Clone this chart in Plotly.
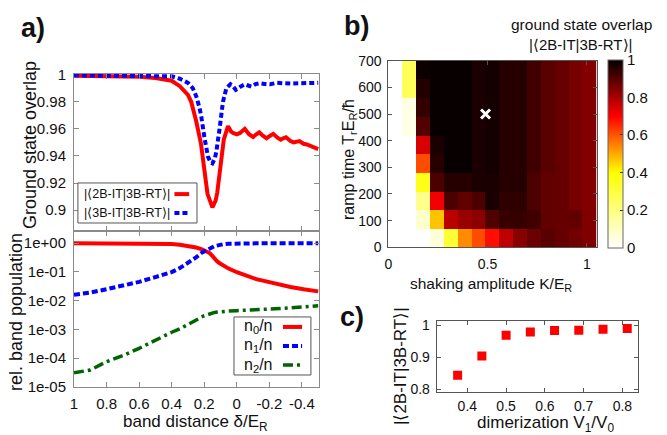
import plotly.graph_objects as go

# ---------------- data ----------------
# panel a (top): ground state overlaps vs band distance
delta_2b = [1.0, 0.8, 0.6, 0.5, 0.4, 0.35, 0.3, 0.28, 0.25, 0.22, 0.2, 0.18, 0.15, 0.13, 0.12, 0.1,
            0.08, 0.054, 0.035, 0.023, 0.0, -0.02, -0.049, -0.075, -0.1, -0.12, -0.138, -0.16,
            -0.183, -0.205, -0.224, -0.25, -0.27, -0.285, -0.302, -0.33, -0.35, -0.385, -0.41,
            -0.43, -0.46, -0.5]
overlap_2b = [0.9993, 0.999, 0.9985, 0.9975, 0.9955, 0.9915, 0.985, 0.980, 0.966, 0.949, 0.929,
              0.912, 0.902, 0.907, 0.913, 0.934, 0.952, 0.962, 0.958, 0.957, 0.956, 0.957, 0.960,
              0.956, 0.954, 0.956, 0.9575, 0.955, 0.953, 0.955, 0.9563, 0.9535, 0.952, 0.953,
              0.9538, 0.951, 0.950, 0.951, 0.949, 0.9485, 0.947, 0.945]
delta_3b = [1.0, 0.6, 0.4, 0.35, 0.3, 0.27, 0.249, 0.23, 0.218, 0.198, 0.177, 0.16, 0.15, 0.135,
            0.125, 0.105, 0.085, 0.064, 0.039, 0.02, 0.006, -0.02, -0.049, -0.07, -0.09, -0.115,
            -0.142, -0.17, -0.204, -0.245, -0.29, -0.33, -0.38, -0.43, -0.5]
overlap_3b = [0.9995, 0.9993, 0.9988, 0.997, 0.994, 0.990, 0.984, 0.976, 0.969, 0.953, 0.9395,
              0.935, 0.9345, 0.938, 0.9436, 0.9607, 0.980, 0.990, 0.9929, 0.991, 0.9888, 0.991,
              0.9929, 0.992, 0.9912, 0.993, 0.9937, 0.9932, 0.9929, 0.994, 0.9935, 0.9934,
              0.9937, 0.9937, 0.994]

# panel a (bottom): relative band populations
delta_pop = [1.0, 0.9, 0.8, 0.7, 0.6, 0.5, 0.44, 0.4, 0.35, 0.3, 0.27, 0.25, 0.218, 0.2, 0.177,
             0.167, 0.15, 0.136, 0.12, 0.105, 0.085, 0.05, 0.0, -0.05, -0.12, -0.2, -0.265,
             -0.33, -0.41, -0.5]
n0 = [0.98, 0.98, 0.978, 0.975, 0.97, 0.965, 0.955, 0.93, 0.88, 0.80, 0.76, 0.70, 0.62, 0.56,
      0.49, 0.45, 0.36, 0.28, 0.23, 0.20, 0.166, 0.13, 0.097, 0.077, 0.056, 0.044, 0.035,
      0.030, 0.025, 0.021]
n1 = [0.016, 0.019, 0.025, 0.033, 0.045, 0.066, 0.083, 0.098, 0.135, 0.2, 0.26, 0.32, 0.45,
      0.52, 0.6, 0.64, 0.72, 0.79, 0.84, 0.87, 0.91, 0.95, 0.975, 0.98, 0.98, 0.98, 0.98,
      0.98, 0.98, 0.98]
n2 = [3.1e-5, 3.9e-5, 7.6e-5, 1.23e-4, 2.2e-4, 4.3e-4, 6.3e-4, 8.0e-4, 1.05e-3, 1.5e-3, 1.85e-3,
      2.2e-3, 2.75e-3, 3.0e-3, 3.3e-3, 3.5e-3, 3.75e-3, 3.9e-3, 4.0e-3, 4.1e-3, 4.2e-3, 4.35e-3,
      4.5e-3, 4.6e-3, 4.8e-3, 5.0e-3, 5.3e-3, 5.6e-3, 6.0e-3, 6.6e-3]

# panel b: overlap map (rows = ramp time, cols = shaking amplitude)
shaking_K = [0.035 + 0.07 * i for i in range(15)]
ramp_T = [35 + 70 * j for j in range(10)]
overlap_map = [
    [0, 0, 0, 0.06, 0.32, 0.535, 0.61, 0.685, 0.775, 0.84, 0.875, 0.895, 0.88, 0.865, 0.85],
    [0, 0, 0.08, 0.47, 0.78, 0.82, 0.835, 0.905, 0.935, 0.935, 0.925, 0.885, 0.88, 0.885, 0.85],
    [0, 0, 0.18, 0.715, 0.91, 0.885, 0.91, 0.97, 0.945, 0.945, 0.91, 0.885, 0.88, 0.86, 0.845],
    [0, 0, 0.36, 0.91, 0.955, 0.955, 0.97, 0.97, 0.955, 0.955, 0.91, 0.885, 0.88, 0.86, 0.845],
    [0, 0, 0.61, 0.955, 0.99, 0.99, 0.97, 0.975, 0.955, 0.955, 0.925, 0.895, 0.88, 0.86, 0.845],
    [0, 0, 0.745, 0.97, 0.99, 0.99, 0.97, 0.975, 0.955, 0.955, 0.925, 0.895, 0.88, 0.86, 0.845],
    [0, 0.04, 0.90, 0.99, 0.99, 0.99, 0.97, 0.975, 0.955, 0.955, 0.925, 0.895, 0.88, 0.86, 0.845],
    [0, 0.04, 0.94, 0.99, 0.99, 0.99, 0.97, 0.975, 0.955, 0.955, 0.925, 0.895, 0.88, 0.86, 0.845],
    [0, 0.26, 0.96, 0.99, 0.99, 0.99, 0.97, 0.975, 0.955, 0.955, 0.925, 0.895, 0.88, 0.86, 0.845],
    [0, 0.26, 0.985, 0.99, 0.99, 0.99, 0.97, 0.975, 0.955, 0.955, 0.925, 0.895, 0.88, 0.86, 0.845],
]
marker_K = [0.49]
marker_T = [500]

# panel c: overlap vs dimerization
dimerization = [0.375, 0.4375, 0.5, 0.5625, 0.625, 0.6875, 0.75, 0.8125]
overlap_dim = [0.843, 0.903, 0.968, 0.978, 0.983, 0.984, 0.987, 0.989]

# tick labels
a_xticks = [1, 0.8, 0.6, 0.4, 0.2, 0, -0.2, -0.4]
a_xlabels = ["1", "0.8", "0.6", "0.4", "0.2", "0", "-0.2", "-0.4"]
a_top_yticks = [0.9, 0.92, 0.94, 0.96, 0.98, 1.0]
a_top_ylabels = ["0.9", "0.92", "0.94", "0.96", "0.98", "1"]
a_bot_yticks = [1e-5, 1e-4, 1e-3, 1e-2, 1e-1, 1]
a_bot_ylabels = ["1e-05", "1e-04", "1e-03", "1e-02", "1e-01", "1e+00"]

# ---------------- figure ----------------
W, H = 667, 435
FONT = "Liberation Sans, Arial, sans-serif"
RED, BLUE, GREEN = "#ff0000", "#0000ff", "#006400"


def px_x(px):
    return px / W


def px_y(py):
    return 1 - py / H


fig = go.Figure()

fig.add_trace(go.Scatter(x=delta_2b, y=overlap_2b, mode="lines", xaxis="x", yaxis="y",
                         line=dict(color=RED, width=4), showlegend=False))
fig.add_trace(go.Scatter(x=delta_3b, y=overlap_3b, mode="lines", xaxis="x", yaxis="y",
                         line=dict(color=BLUE, width=4, dash="5px,3px"), showlegend=False))

fig.add_trace(go.Scatter(x=delta_pop, y=n0, mode="lines", xaxis="x2", yaxis="y2",
                         line=dict(color=RED, width=4), showlegend=False))
fig.add_trace(go.Scatter(x=delta_pop, y=n1, mode="lines", xaxis="x2", yaxis="y2",
                         line=dict(color=BLUE, width=4, dash="6px,3px"), showlegend=False))
fig.add_trace(go.Scatter(x=delta_pop, y=n2, mode="lines", xaxis="x2", yaxis="y2",
                         line=dict(color=GREEN, width=3.5, dash="10px,4px,3px,4px"),
                         showlegend=False))

colorscale = [[0.0, "rgb(255,255,255)"], [0.4, "rgb(255,255,0)"],
              [0.7, "rgb(255,0,0)"], [1.0, "rgb(0,0,0)"]]
fig.add_trace(go.Heatmap(x=shaking_K, y=ramp_T, z=overlap_map, xaxis="x3", yaxis="y3",
                         colorscale=colorscale, zmin=0, zmax=1,
                         colorbar=dict(x=px_x(608.3), xanchor="left", thickness=15,
                                       thicknessmode="pixels", len=(247.7 - 59.7) / H,
                                       lenmode="fraction", y=px_y(153.7), yanchor="middle",
                                       outlinecolor="#666", outlinewidth=1,
                                       tickvals=[0, 0.2, 0.4, 0.6, 0.8, 1],
                                       ticktext=["0", "0.2", "0.4", "0.6", "0.8", "1"],
                                       ticks="inside", ticklen=3, tickcolor="#333",
                                       tickfont=dict(size=15, family=FONT, color="#111"),
                                       xpad=0, ypad=0)))
fig.add_trace(go.Scatter(x=marker_K, y=marker_T, mode="markers", xaxis="x3", yaxis="y3",
                         marker=dict(symbol="x-thin-open", size=9, color="white",
                                     line=dict(color="white", width=3)),
                         showlegend=False))

fig.add_trace(go.Scatter(x=dimerization, y=overlap_dim, mode="markers", xaxis="x4", yaxis="y4",
                         marker=dict(symbol="square", size=9, color=RED), showlegend=False))

gp_axis = dict(showgrid=False, zeroline=False, showline=True, linecolor="#8a8a8a", linewidth=1,
               mirror="ticks", ticks="inside", ticklen=5, tickcolor="#8a8a8a",
               tickfont=dict(size=15, family=FONT, color="#111"))
ml_axis = dict(showgrid=False, zeroline=False, showline=True, linecolor="#555", linewidth=1,
               mirror="ticks", ticks="inside", ticklen=4, tickcolor="#555",
               tickfont=dict(size=14, family=FONT, color="#111"))

xa_dom = [px_x(74), px_x(319)]
fig.update_layout(
    width=W, height=H, margin=dict(l=0, r=0, t=0, b=0, autoexpand=False),
    paper_bgcolor="white", plot_bgcolor="white", showlegend=False,
    font=dict(family=FONT, color="#111"),
    xaxis=dict(gp_axis, domain=xa_dom, anchor="y", range=[1, -0.505],
               tickvals=a_xticks, showticklabels=False),
    yaxis=dict(gp_axis, domain=[px_y(231), px_y(74)], anchor="x", range=[0.8846, 1.0005],
               tickvals=a_top_yticks, ticktext=a_top_ylabels, ticklabelstandoff=4),
    xaxis2=dict(gp_axis, domain=xa_dom, anchor="y2", range=[1, -0.505],
                tickvals=a_xticks, ticktext=a_xlabels, ticklabelstandoff=3),
    yaxis2=dict(gp_axis, domain=[px_y(387), px_y(231)], anchor="x2", type="log",
                range=[-5, 0.42], tickvals=a_bot_yticks, ticktext=a_bot_ylabels,
                ticklabelstandoff=4),
    xaxis3=dict(ml_axis, domain=[px_x(388.3), px_x(596.7)], anchor="y3", range=[0, 1.05],
                tickvals=[0, 0.5, 1], ticktext=["0", "0.5", "1"], ticklabelstandoff=4),
    yaxis3=dict(ml_axis, domain=[px_y(247.3), px_y(60.7)], anchor="x3", range=[0, 700],
                tickvals=[0, 100, 200, 300, 400, 500, 600, 700], ticklabelstandoff=3),
    xaxis4=dict(ml_axis, domain=[px_x(436.7), px_x(638.3)], anchor="y4", range=[0.321, 0.841],
                tickvals=[0.4, 0.5, 0.6, 0.7, 0.8], ticklabelstandoff=1),
    yaxis4=dict(ml_axis, domain=[px_y(392.3), px_y(321)], anchor="x4", range=[0.79, 1.0125],
                tickvals=[0.8, 0.9, 1.0], ticktext=["0.8", "0.9", "1"], ticklabelstandoff=3),
)

# legends drawn gnuplot-style (text left, sample right)
shapes = []
anns = []
shapes.append(dict(type="rect", xref="x domain", yref="y domain", x0=0.016, x1=0.502,
                   y0=0.051, y1=0.306, line=dict(color="#555", width=1), fillcolor="white",
                   layer="above"))
leg_top = [("|⟨2B-IT|3B-RT⟩|", 0.235, RED, None),
           ("|⟨3B-IT|3B-RT⟩|", 0.115, BLUE, "5px,3px")]
for txt, yy, col, dash in leg_top:
    anns.append(dict(text=txt, xref="x domain", yref="y domain", x=0.40, y=yy, xanchor="right",
                     yanchor="middle", showarrow=False, font=dict(size=12.5, family=FONT)))
    ln = dict(color=col, width=4)
    if dash:
        ln["dash"] = dash
    shapes.append(dict(type="line", xref="x domain", yref="y domain", x0=0.41, x1=0.47,
                       y0=yy, y1=yy, line=ln, layer="above"))

shapes.append(dict(type="rect", xref="x2 domain", yref="y2 domain", x0=0.653, x1=0.967,
                   y0=0.077, y1=0.449, line=dict(color="#555", width=1), fillcolor="white",
                   layer="above"))
leg_bot = [("n<sub>0</sub>/n", 0.385, RED, None, 4),
           ("n<sub>1</sub>/n", 0.263, BLUE, "6px,3px", 4),
           ("n<sub>2</sub>/n", 0.141, GREEN, "10px,4px,3px,4px", 3.5)]
for txt, yy, col, dash, w in leg_bot:
    anns.append(dict(text=txt, xref="x2 domain", yref="y2 domain", x=0.815, y=yy,
                     xanchor="right", yanchor="middle", showarrow=False,
                     font=dict(size=16, family=FONT)))
    ln = dict(color=col, width=w)
    if dash:
        ln["dash"] = dash
    shapes.append(dict(type="line", xref="x2 domain", yref="y2 domain", x0=0.853, x1=0.931,
                       y0=yy, y1=yy, line=ln, layer="above"))


def ann(text, x, y, size, angle=0, bold=False):
    anns.append(dict(text=f"<b>{text}</b>" if bold else text, xref="paper", yref="paper",
                     x=px_x(x), y=px_y(y), xanchor="center", yanchor="middle",
                     showarrow=False, textangle=angle, font=dict(size=size, family=FONT,
                                                                 color="#111")))


ann("Ground state overlap", 30, 145, 18, -90)
ann("rel. band population", 16, 312, 18, -90)
ann("band distance δ/E<sub>R</sub>", 195, 423, 17)
ann("ramp time T<sub>r</sub>E<sub>R</sub>/ħ", 349, 160, 16, -90)
ann("shaking amplitude K/E<sub>R</sub>", 491, 284, 15.5)
ann("ground state overlap", 581, 24, 15.5)
ann("|⟨2B-IT|3B-RT⟩|", 580, 44, 15)
ann("|⟨2B-IT|3B-RT⟩|", 400, 366, 17, -90)
ann("dimerization V<sub>1</sub>/V<sub>0</sub>", 545, 424, 17)
ann("a)", 33, 28, 27, bold=True)
ann("b)", 357, 26, 27, bold=True)
ann("c)", 352, 317, 27, bold=True)

fig.update_layout(shapes=shapes, annotations=anns)
fig.write_html("out.html", config={"displayModeBar": False},
               post_script="document.body.style.margin='0';document.body.style.overflow='hidden';")
